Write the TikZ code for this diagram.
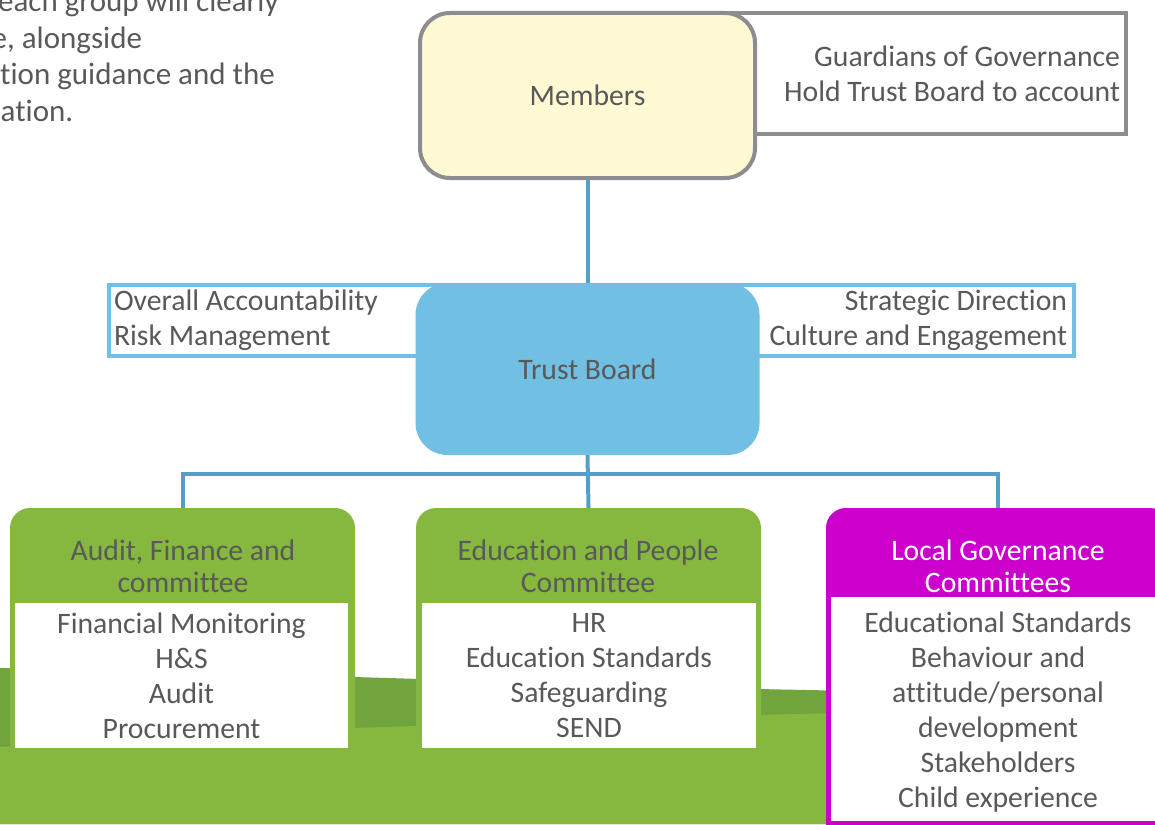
\documentclass[tikz,border=0pt]{standalone}
\usepackage{fontspec}
\setmainfont{Carlito}[Ligatures={NoCommon}]
\definecolor{txtgray}{HTML}{595959}
\definecolor{memfill}{HTML}{FFF9D4}
\definecolor{memline}{HTML}{8C8C91}
\definecolor{tbblue}{HTML}{71BFE2}
\definecolor{linkblue}{HTML}{559FC6}
\definecolor{leaf}{HTML}{86B83F}
\definecolor{leafdark}{HTML}{72A43E}
\definecolor{lgcpink}{HTML}{CC00CC}
\tikzset{
	body/.style={font=\fontsize{29.7}{35}\selectfont, text=txtgray},
	headtxt/.style={font=\fontsize{29.7}{32}\selectfont, text=txtgray, align=center},
	link/.style={draw=linkblue, line width=4pt},
	memnode/.style={body, draw=memline, fill=memfill, line width=4pt, rounded corners=30pt},
	govbox/.style={body, draw=memline, fill=white, line width=4pt},
	sidebox/.style={body, draw=tbblue, fill=white, line width=4pt},
	tbnode/.style={body, fill=tbblue, rounded corners=32pt},
	frame/.style={fill=#1, rounded corners=20pt},
	listbox/.style={body, fill=white, align=center}
}
\begin{document}
\begin{tikzpicture}[x=1pt,y=-1pt]
		\useasboundingbox (0,0) rectangle (1155,824);
		
		% ground
		\fill[leafdark] (0,668) -- (354,677) -- (757,689) -- (1155,697) -- (1155,824) -- (0,824) -- cycle;
		\fill[leaf] (0,747) -- (354,728) -- (757,715) -- (1155,705) -- (1155,824) -- (0,824) -- cycle;
		
		\node[body, anchor=north west, align=left, inner sep=0pt, font=\fontsize{31}{36.5}\selectfont] (intro) at (0,-10) {\hspace*{-2pt}each group will clearly\\\hspace*{-8.5pt}e, alongside\\tion guidance and the\\\hspace*{0.5pt}ation.};
		
		% members
		\node[govbox, minimum height=121, text width=414, inner xsep=6, align=flush right] (gov) at (913,73.5) {Guardians of Governance\\Hold Trust Board to account};
		\node[memnode, minimum width=335, minimum height=165] (mem) at (587.5,95.5) {Members};
		
		% trust board
		\node[sidebox, minimum height=71, text width=331, inner xsep=5, align=flush left] (acc) at (279.5,320.5) {Overall Accountability\\Risk Management};
		\node[sidebox, minimum height=71, text width=330, inner xsep=7, align=flush right] (strat) at (902,320.5) {Strategic Direction\\Culture and Engagement};
		\node[tbnode, minimum width=344, minimum height=172] (tb) at (587.5,369) {Trust Board};
		\draw[link] (mem.south) -- (tb.north);
		
		% committees
		\node[frame=leaf, minimum width=345, minimum height=252] (afc) at (182.5,634) {};
		\node[frame=leaf, minimum width=345, minimum height=252] (epc) at (588.5,634) {};
		\node[frame=lgcpink, minimum width=344, minimum height=342] (lgc) at (998,679) {};
		
		\node[headtxt] (afchead) at (183,566) {Audit, Finance and\\committee};
		\node[headtxt] (epchead) at (588,566) {Education and People\\Committee};
		\node[headtxt, text=white] (lgchead) at (998,566) {Local Governance\\Committees};
		
		\node[listbox, minimum width=333, minimum height=145] (afclist) at (181.5,675.5) {Financial Monitoring\\H\&S\\Audit\\Procurement};
		\node[listbox, minimum width=334, minimum height=145] (epclist) at (589,675.5) {HR\\Education Standards\\Safeguarding\\SEND};
		\node[fill=white, minimum width=334, minimum height=224] (lgcbody) at (998,709) {};
		\node[body, align=center] (lgclist) at (998,712.5) {Educational Standards\\Behaviour and\\attitude/personal\\development\\Stakeholders\\Child experience};
		
		\coordinate (bar) at (588,474);
		\draw[link] (tb.south) -- (epc.north);
		\draw[link] (afc.north) |- (bar) -| (lgc.north);
\end{tikzpicture}
\end{document}
